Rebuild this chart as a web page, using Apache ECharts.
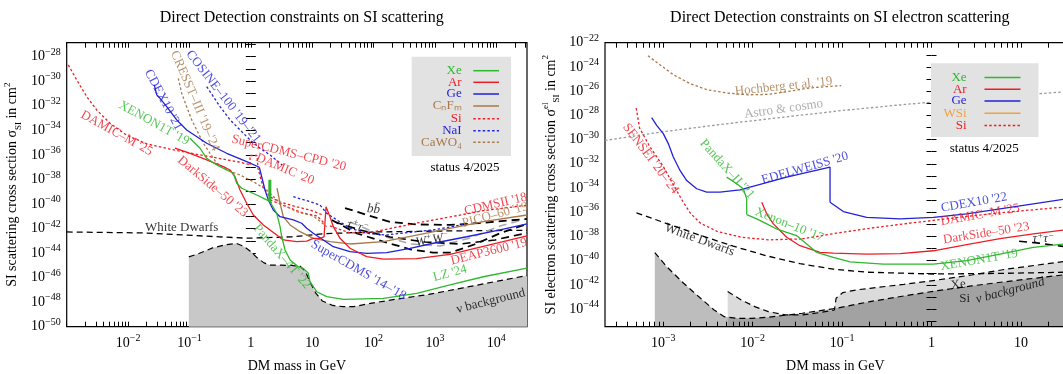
<!DOCTYPE html>
<html><head><meta charset="utf-8">
<script src="https://cdn.jsdelivr.net/npm/echarts@6/dist/echarts.min.js"></script>
<style>html,body{margin:0;padding:0;background:#fff;}#c{width:1063px;height:374px;}</style>
</head><body><div id="c"></div>
<script>
// ===== DATA (all values are log10: x = log10(mass / GeV), y = log10(sigma / cm^2)) =====
// --- Left panel: SI (nucleon) scattering ---
const nuFloorNucleon = [[-1.01,-44.31],[-0.847,-44.04],[-0.623,-43.58],[-0.399,-43.31],[-0.232,-43.22],[-0.12,-43.44],[-0.008,-43.85],[0.104,-44.39],[0.216,-44.8],[0.328,-44.99],[0.496,-44.99],[0.663,-45.01],[0.803,-45.07],[0.887,-45.47],[0.971,-46.42],[1.055,-47.24],[1.167,-47.91],[1.334,-48.27],[1.502,-48.37],[1.67,-48.37],[1.95,-48.1],[2.341,-47.78],[2.9,-47.37],[3.46,-46.83],[4.019,-46.29],[4.5,-45.83]];
const whiteDwarfsNucleon = [[-3,-42.28],[-1.742,-42.36],[-0.511,-42.68],[-0.064,-42.79],[0.663,-42.68],[1.222,-42.41],[2.06,-42.28],[3.18,-42.2],[4.5,-42.14]];
const annBB = [[1.535,-40.33],[1.893,-40.9],[2.268,-41.47],[2.708,-41.67],[3.246,-41.71],[3.735,-41.55],[4.5,-41.22]];
const annWW = [[1.318,-41.3],[1.725,-42.39],[2.159,-43.07],[2.594,-43.69],[2.969,-43.97],[3.246,-43.97],[3.621,-43.34],[4.06,-42.39],[4.5,-41.63]];
const annTauTau = [[1.372,-41.47],[1.78,-42.12],[2.268,-42.69],[2.838,-43.1],[3.409,-43.26],[3.98,-42.93],[4.5,-42.36]];
const annOther = [[1.618,-41.47],[2.156,-42.61],[2.596,-43.26],[3.085,-43.42],[3.573,-42.77],[4.06,-41.79],[4.5,-41.2]];
const lz24 = [[0.851,-45.24],[0.937,-45.65],[0.964,-46.33],[1.074,-47.15],[1.237,-47.55],[1.507,-47.77],[2.159,-47.69],[2.703,-47.28],[3.246,-46.6],[3.788,-45.93],[4.5,-45.22]];
const pandax4t22 = [[0.315,-39.84],[0.422,-40.76],[0.476,-41.85],[0.504,-42.67],[0.558,-43.75],[0.64,-44.56],[0.774,-45.11],[0.851,-45.24]];
const pandax4t22Edge = [[0.31,-38.02],[0.31,-39.84]];
const xenon1t19 = [[-0.991,-34.65],[-0.828,-35.46],[-0.719,-36.28],[-0.556,-36.82],[-0.285,-37.5],[-0.23,-38.31],[-0.148,-38.72],[0.096,-39.27],[0.259,-39.67],[0.345,-39.92]];
const darkside50 = [[-1.235,-35.45],[-0.989,-35.87],[-0.719,-36.41],[-0.448,-36.96],[-0.339,-37.23],[-0.258,-37.78],[-0.176,-38.86],[-0.067,-39.94],[0.041,-40.9],[0.204,-41.71],[0.422,-42.53],[0.53,-42.93],[0.748,-43.07],[0.911,-43.02],[1.018,-42.8],[1.127,-42.8],[1.193,-42.69]];
const deap3600 = [[1.193,-42.69],[1.225,-40.22],[1.29,-41.04],[1.344,-41.85],[1.454,-42.8],[1.616,-43.61],[1.888,-44.29],[2.159,-44.5],[2.703,-44.45],[3.246,-44.1],[3.788,-43.45],[4.5,-42.6]];
const cdex10_21 = [[-1.573,-30.3],[-1.533,-31.11],[-1.48,-31.39],[-1.371,-32.07],[-1.208,-33.15],[-1.045,-33.97],[-0.719,-35.05],[-0.393,-35.87],[-0.067,-36.55],[0.138,-37.01]];
const superCDMS = [[0.138,-37.01],[0.177,-37.78],[0.231,-38.86],[0.285,-39.67],[0.366,-40.49],[0.476,-41.04],[0.692,-41.3],[0.829,-41.57],[0.911,-41.98],[1.018,-42.39],[1.181,-42.93],[1.344,-43.48],[1.616,-43.89],[1.888,-44.02],[2.214,-43.97],[2.594,-43.61],[2.974,-43.2],[3.518,-42.67],[4.061,-42.12],[4.5,-41.63]];
const damicM25 = [[-2.974,-28.67],[-2.837,-29.89],[-2.674,-31.25],[-2.511,-32.34],[-2.294,-33.42],[-2.022,-34.4],[-1.696,-35.1],[-1.303,-35.55],[-0.937,-35.9],[-0.502,-36.3],[-0.176,-36.6],[-0.013,-36.8]];
const damic20 = [[-0.013,-36.8],[-0.013,-36.05],[0.101,-36.05],[0.117,-37.1],[0.199,-38.61],[0.313,-39.43],[0.476,-39.84],[0.753,-40.24],[0.965,-40.49],[1.176,-40.9]];
const superCDMSCPD20 = [[0.313,-39.67],[0.59,-40.24],[0.851,-40.73],[1.079,-40.98],[1.193,-41.55]];
const cdmsII18 = [[1.29,-41.79],[1.616,-42.36],[1.893,-42.36],[2.154,-42.12],[2.708,-41.55],[3.246,-41.06],[3.784,-40.55],[4.5,-40.1]];
const pico60 = [[0.427,-38.7],[0.476,-39.94],[0.53,-41.04],[0.64,-41.71],[0.802,-42.26],[1.018,-42.8],[1.29,-43.07],[1.616,-43.26],[2.159,-43.07],[2.703,-42.53],[3.246,-41.98],[3.788,-41.44],[4.5,-40.9]];
const cresst3 = [[-1.182,-29.76],[-1.126,-30.98],[-1.045,-32.08],[-0.963,-33.15],[-0.882,-33.97],[-0.774,-35.05],[-0.665,-35.87],[-0.556,-36.68],[-0.393,-37.23],[-0.176,-37.64],[0.041,-38.18],[0.259,-38.86],[0.476,-39.92],[0.748,-40.63],[1.018,-40.98],[1.237,-41.85]];
const cosine100 = [[-0.719,-30.44],[-0.611,-31.25],[-0.502,-32.07],[-0.337,-33.15],[-0.176,-33.97],[-0.013,-34.78],[0.15,-35.46],[0.313,-36.0],[0.509,-36.82]];
const naiHighMass = [[0.692,-39.41],[0.965,-39.81],[1.127,-40.08],[1.237,-40.76],[1.4,-41.3],[1.616,-41.96],[1.888,-42.39],[2.214,-42.53],[2.431,-42.39],[2.974,-42.12],[3.518,-41.63]];

// --- Right panel: SI electron scattering ---
const hochberg19 = [[-3.171,-23.08],[-3.038,-23.82],[-2.886,-24.65],[-2.697,-25.39],[-2.507,-25.89],[-2.28,-26.16],[-2.052,-26.3],[-1.825,-26.27],[-1.597,-26.02],[-1.37,-25.74],[-1.142,-25.61],[-1.01,-25.55]];
const astroCosmo = [[-3.652,-30.07],[-3.0,-29.35],[-2.3,-28.7],[-1.6,-28.1],[-1.0,-27.6],[-0.3,-27.1],[0.5,-26.6],[1.5,-26.05]];
const sensei = [[-3.303,-27.4],[-3.265,-29.05],[-3.152,-30.57],[-3.0,-32.22],[-2.886,-33.74],[-2.792,-34.98],[-2.697,-36.08],[-2.583,-36.91],[-2.394,-37.59],[-2.128,-38.06],[-1.825,-38.28],[-1.446,-38.2]];
const damicM25El = [[-1.446,-38.2],[-1.067,-37.73],[-0.688,-37.32],[-0.309,-36.96],[0.07,-36.63],[0.449,-36.3],[0.829,-36.0],[1.5,-35.56]];
const edelweiss20 = [[-3.13,-28.18],[-3.074,-28.82],[-3.0,-29.51],[-2.944,-30.33],[-2.888,-31.44],[-2.813,-32.55],[-2.738,-33.38],[-2.626,-34.06],[-2.514,-34.34],[-2.366,-34.34],[-2.142,-34.15],[-1.62,-33.1],[-1.135,-32.27],[-1.135,-35.17]];
const cdex10_22 = [[-1.135,-35.17],[-0.986,-35.94],[-0.725,-36.42],[-0.352,-36.55],[0.02,-36.42],[0.394,-36.13],[0.766,-35.72],[1.139,-35.31],[1.5,-34.9]];
const pandaxII21 = [[-2.291,-33.1],[-2.179,-33.65],[-2.105,-34.06],[-2.067,-34.89],[-2.067,-36.19]];
const xenon10_17 = [[-2.067,-36.19],[-1.955,-36.55],[-1.843,-36.96],[-1.731,-37.38],[-1.62,-37.66],[-1.508,-37.93],[-1.396,-38.62],[-1.284,-39.32]];
const xenon1t19El = [[-1.284,-39.32],[-1.098,-39.73],[-0.912,-40.09],[-0.539,-40.28],[0.02,-40.28],[0.394,-40.0],[0.766,-39.45],[1.139,-38.9],[1.5,-38.6]];
const darkside50El = [[-1.899,-35.17],[-1.843,-36.13],[-1.769,-36.96],[-1.62,-38.07],[-1.471,-38.76],[-1.247,-39.32],[-1.098,-39.38],[-0.725,-39.46],[-0.352,-39.42],[0.02,-39.18],[0.394,-38.68],[0.766,-38.18],[1.139,-37.79],[1.5,-37.45]];
const whiteDwarfsEl = [[-3.3,-36.05],[-2.962,-36.93],[-2.589,-37.9],[-2.217,-38.8],[-1.843,-39.6],[-1.471,-40.25],[-1.098,-40.7],[-0.725,-40.95],[0.02,-41.1],[0.766,-41.05],[1.5,-40.95]];
const nuFloorSi = [[-3.095,-39.33],[-2.962,-40.49],[-2.773,-41.86],[-2.583,-43.1],[-2.431,-44.07],[-2.318,-44.62],[-2.166,-44.76],[-2.014,-44.76],[-1.825,-44.67],[-1.446,-44.34],[-1.067,-43.93],[-0.688,-43.38],[-0.309,-42.91],[0.07,-42.47],[0.449,-42.08],[0.829,-41.73],[1.5,-41.15]];
const nuFloorXe = [[-2.28,-42.55],[-2.128,-43.24],[-1.977,-43.79],[-1.825,-44.21],[-1.635,-44.48],[-1.446,-44.48],[-1.256,-44.29],[-1.086,-44.07],[-1.067,-43.1],[-0.991,-42.63],[-0.839,-42.41],[-0.688,-42.28],[-0.309,-41.95],[0.07,-41.59],[0.449,-41.18],[0.829,-40.71],[1.5,-40.05]];
const annTauTauEl = [[0.98,-38.4],[1.2,-38.55],[1.5,-38.85]];

// axis ranges (log10 units) and labelled decades
const xRangeL = [-3, 4.5], yRangeL = [-50, -26.86];
const xRangeR = [-3.652, 1.5], yRangeR = [-45.45, -22];
const xLabelsL = [-2,-1,0,1,2,3,4], yLabelsL = [-50,-48,-46,-44,-42,-40,-38,-36,-34,-32,-30,-28];
const xLabelsR = [-3,-2,-1,0,1], yLabelsR = [-44,-42,-40,-38,-36,-34,-32,-30,-28,-26,-24,-22];

// ===== STYLE =====
const FONT = '"Liberation Serif","Times New Roman",serif';
const C = {green:'#2db82d', red:'#ee1c25', blue:'#2222d6', brown:'#a8784a', orange:'#f4a040', grey:'#9a9a9a', black:'#000'};

function logTicks(r){const o=[];for(let e=Math.floor(r[0]);e<=Math.ceil(r[1]);e++)for(let k=1;k<=9;k++){const v=e+Math.log10(k);if(v>=r[0]-1e-9&&v<=r[1]+1e-9)o.push(v);}return o;}
function intTicks(r){const o=[];for(let e=Math.ceil(r[0]);e<=Math.floor(r[1]);e++)o.push(e);return o;}
function decadeFmt(v){const e=Math.round(v);if(e===0)return '1';if(e===1)return '10';return '10{sup|'+(e<0?'\u2212'+(-e):e)+'}';}
const supRich = {sup:{fontSize:10,lineHeight:10,verticalAlign:'top',fontFamily:FONT,color:'#000'}};

function xAx(grid, range, pos, labels){
  return {type:'value', gridIndex:grid, position:pos, min:range[0], max:range[1],
    axisLine:{show:false}, splitLine:{show:false},
    axisTick:{show:true, inside:true, length:5, customValues:logTicks(range), lineStyle:{color:'#000',width:1}},
    axisLabel: labels ? {show:true, customValues:labels, formatter:decadeFmt, margin:7, color:'#000', fontFamily:FONT, fontSize:14, lineHeight:19, rich:supRich} : {show:false},
    name: labels ? 'DM mass in GeV' : '', nameLocation:'middle', nameGap:33,
    nameTextStyle:{fontFamily:FONT, fontSize:14, color:'#000'}};
}
function yAx(grid, range, pos, labels, name){
  return {type:'value', gridIndex:grid, position:pos, min:range[0], max:range[1],
    axisLine:{show:false}, splitLine:{show:false},
    axisTick:{show:true, inside:true, length:5, customValues:intTicks(range), lineStyle:{color:'#000',width:1}},
    axisLabel: labels ? {show:true, customValues:labels, formatter:decadeFmt, margin:6, color:'#000', fontFamily:FONT, fontSize:14, lineHeight:19, rich:supRich} : {show:false},
    name: name || '', nameLocation:'middle', nameGap:44,
    nameTextStyle:{fontFamily:FONT, fontSize:14, color:'#000', lineHeight:20,
      rich:{sub:{fontSize:9,lineHeight:9,verticalAlign:'bottom',fontFamily:FONT,color:'#000'},
            sup:{fontSize:9,lineHeight:9,verticalAlign:'top',fontFamily:FONT,color:'#000'}}}};
}

const DASH = {solid:'solid', dotted:[2.5,2.2], dashed:[6,4], dashedLong:[8,5]};
function line(data, color, dash, width, panel, z){
  return {type:'line', data:data, xAxisIndex:panel*2, yAxisIndex:panel*2, showSymbol:false, symbol:'none',
    silent:true, z:z||3, lineStyle:{color:color, width:width, type:DASH[dash]}};
}
function area(data, fill, panel){
  return {type:'line', data:data, xAxisIndex:panel*2, yAxisIndex:panel*2, showSymbol:false, symbol:'none',
    silent:true, z:1, lineStyle:{color:'#000', width:1.2, type:DASH.dashed},
    areaStyle:{color:fill, opacity:1, origin:'start'}};
}
function labels(list, panel){
  return {type:'scatter', xAxisIndex:panel*2, yAxisIndex:panel*2, symbolSize:1, silent:true, z:6,
    itemStyle:{color:'rgba(0,0,0,0)'},
    label:{show:true, position:'inside', fontFamily:FONT, fontSize:13, rich:{sup:{fontSize:9,lineHeight:9,verticalAlign:'top',fontFamily:FONT,fontStyle:'italic',color:'#000'}}},
    data:list.map(l=>({value:l[1], label:{formatter:l[0], rotate:l[2], color:l[3], fontStyle:l[4]?'italic':'normal', lineHeight:l[4]?16:undefined}}))};
}

const annotL = [
  ["CDEX10 '21", [-1.426,-31.52], -62, C.blue],
  ["CRESST\u2013III '19\u2013'24", [-0.909,-31.6], -67, C.brown],
  ["COSINE\u2013100 '19\u2013'21", [-0.448,-31.25], -52, C.blue],
  ["XENON1T '19", [-1.577,-33.42], -29, C.green],
  ["DAMIC\u2013M '25", [-2.185,-34.24], -29, C.red],
  ["SuperCDMS\u2013CPD '20", [0.619,-35.85], -14, C.red],
  ["DAMIC '20", [0.557,-37.17], -23, C.red],
  ["DarkSide\u201350 '23", [-0.621,-38.59], -40, C.red],
  ["White Dwarfs", [-1.126,-41.95], 0, C.black],
  ["PandaX\u20134T '22", [0.508,-44.3], -49, C.green],
  ["SuperCDMS '14\u2013'18", [1.755,-45.4], -30, C.blue],
  ["LZ '24", [3.246,-45.65], 15, C.green],
  ["\u03bd background", [3.91,-47.91], 14, C.black],
  ["DEAP3600 '19", [3.88,-43.89], 14, C.red],
  ["CDMSII '18", [3.99,-40.02], 13, C.red],
  ["PICO\u201360 '19", [3.98,-40.9], 15, C.brown],
  ["bb\u0304", [2.0,-40.43], -5, C.black, true],
  ["\u03c4{sup|+}\u03c4{sup|\u2212}", [1.74,-41.85], -15, C.black, true],
  ["W{sup|+}W{sup|\u2212}", [2.957,-42.93], 10, C.black, true]
];
const annotR = [
  ["Hochberg et al. '19", [-1.654,-25.61], 6, C.brown],
  ["Astro & cosmo", [-1.654,-27.48], 8, C.grey],
  ["SENSEI '20\u2013'24", [-3.141,-31.58], -53, C.red],
  ["PandaX\u2013II '21", [-2.287,-32.44], -48, C.green],
  ["EDELWEISS '20", [-1.415,-32.36], 16, C.blue],
  ["Xenon\u201310 '17", [-1.59,-37.04], -22, C.green],
  ["White Dwarfs", [-2.594,-38.28], -20, C.black],
  ["CDEX10 '22", [0.476,-35.2], 10, C.blue],
  ["DAMIC\u2013M '25", [0.544,-36.22], 10, C.red],
  ["DarkSide\u201350 '23", [0.613,-37.73], 9, C.red],
  ["XENON1T '19", [0.533,-39.94], 10, C.green],
  ["Xe", [0.3,-42.0], 8, C.black],
  ["Si", [0.37,-43.16], 0, C.black],
  ["\u03bd background", [0.88,-42.47], 15, C.black, true],
  ["\u03c4{sup|+}\u03c4{sup|\u2212}", [1.25,-38.2], 0, C.black, true]
];

const series = [
  area(nuFloorNucleon, '#c8c8c8', 0),
  line(whiteDwarfsNucleon, '#000', 'dashed', 1.3, 0),
  line(annOther, '#aaaaaa', 'dashedLong', 1.6, 0),
  line(annBB, '#000', 'dashedLong', 1.8, 0),
  line(annTauTau, '#000', 'dashedLong', 1.6, 0),
  line(annWW, '#000', 'dashedLong', 1.8, 0),
  line(damicM25, C.red, 'dotted', 1.3, 0),
  line(damic20, C.red, 'dotted', 1.3, 0),
  line(superCDMSCPD20, C.red, 'dotted', 1.3, 0),
  line(cdmsII18, C.red, 'dotted', 1.3, 0),
  line(cresst3, C.brown, 'dotted', 1.3, 0),
  line(cosine100, C.blue, 'dotted', 1.3, 0),
  line(naiHighMass, C.blue, 'dotted', 1.3, 0),
  line(pico60, C.brown, 'solid', 1.3, 0),
  line(cdex10_21, C.blue, 'solid', 1.3, 0),
  line(superCDMS, C.blue, 'solid', 1.3, 0),
  line(darkside50, C.red, 'solid', 1.3, 0),
  line(deap3600, C.red, 'solid', 1.3, 0),
  line(xenon1t19, C.green, 'solid', 1.3, 0),
  line(pandax4t22, C.green, 'solid', 1.3, 0),
  line(pandax4t22Edge, C.green, 'solid', 3, 0),
  line(lz24, C.green, 'solid', 1.3, 0),
  labels(annotL, 0),

  area(nuFloorSi, 'rgba(0,0,0,0.26)', 1),
  area(nuFloorXe, 'rgba(0,0,0,0.14)', 1),
  line(whiteDwarfsEl, '#000', 'dashed', 1.3, 1),
  line(annTauTauEl, '#000', 'dashedLong', 1.6, 1),
  line(hochberg19, C.brown, 'dotted', 1.3, 1),
  line(astroCosmo, C.grey, 'dotted', 1.3, 1),
  line(sensei, C.red, 'dotted', 1.3, 1),
  line(damicM25El, C.red, 'dotted', 1.3, 1),
  line(edelweiss20, C.blue, 'solid', 1.3, 1),
  line(cdex10_22, C.blue, 'solid', 1.3, 1),
  line(darkside50El, C.red, 'solid', 1.3, 1),
  line(pandaxII21, C.green, 'solid', 1.3, 1),
  line(xenon10_17, C.green, 'solid', 1.3, 1),
  line(xenon1t19El, C.green, 'solid', 1.3, 1),
  labels(annotR, 1)
];

// ===== legends (drawn as graphics) =====
function legendBox(x, y, w, h, items, textRight, lineX1, lineX2, rows, status){
  const els = [{type:'rect', z:100, shape:{x:x,y:y,width:w,height:h}, style:{fill:'#e2e2e2'}}];
  items.forEach((it,i)=>{
    els.push({type:'text', z:101, x:textRight, y:rows[i], style:{text:it[0], fill:it[1], font:'13px '+FONT, align:'right', verticalAlign:'middle'}});
    els.push({type:'line', z:101, shape:{x1:lineX1,y1:rows[i],x2:lineX2,y2:rows[i]}, style:{stroke:it[1], lineWidth:1.5, lineDash: it[2]==='dotted'?[2.5,2.2]:null}});
  });
  els.push({type:'text', z:101, x:status[0], y:status[1], style:{text:'status 4/2025', fill:'#000', font:'13px '+FONT, align:'center', verticalAlign:'middle'}});
  return els;
}
const legendL = [['Xe',C.green,'solid'],['Ar',C.red,'solid'],['Ge',C.blue,'solid'],['C\u2099F\u2098',C.brown,'solid'],['Si',C.red,'dotted'],['NaI',C.blue,'dotted'],['CaWO\u2084',C.brown,'dotted']];
const legendR = [['Xe',C.green,'solid'],['Ar',C.red,'solid'],['Ge',C.blue,'solid'],['WSi',C.orange,'solid'],['Si',C.red,'dotted']];

const graphics = [].concat(
  legendBox(411.7, 56.7, 99.3, 99.3, legendL, 461.7, 473.3, 499, [70.7,82.3,94,106,118.7,130.7,142.3], [465,167.3]),
  legendBox(931, 63.3, 107.4, 73.8, legendR, 966.6, 984.5, 1020.5, [77.5,89.3,101,113.3,125.5], [984.2,148.1])
);

const chart = echarts.init(document.getElementById('c'), null, {renderer:'canvas'});
chart.setOption({
  animation:false,
  backgroundColor:'#fff',
  title:[
    {text:'Direct Detection constraints on SI scattering', left:296.7, top:5, textAlign:'center', textStyle:{fontFamily:FONT, fontSize:16, fontWeight:'normal', color:'#000'}},
    {text:'Direct Detection constraints on SI electron scattering', left:834.8, top:5, textAlign:'center', textStyle:{fontFamily:FONT, fontSize:16, fontWeight:'normal', color:'#000'}}
  ],
  grid:[
    {left:66.7, top:42.7, width:460.3, height:284, show:true, borderColor:'#000', borderWidth:1.2, backgroundColor:'transparent', containLabel:false, outerBoundsMode:'none'},
    {left:605, top:42.7, width:460.6, height:284, show:true, borderColor:'#000', borderWidth:1.2, backgroundColor:'transparent', containLabel:false, outerBoundsMode:'none'}
  ],
  xAxis:[ xAx(0,xRangeL,'bottom',xLabelsL), xAx(0,xRangeL,'top',null), xAx(1,xRangeR,'bottom',xLabelsR), xAx(1,xRangeR,'top',null) ],
  yAxis:[ yAx(0,yRangeL,'left',yLabelsL,'SI scattering cross section \u03c3{sub|SI} in cm{sup|2}'), yAx(0,yRangeL,'right',null),
          yAx(1,yRangeR,'left',yLabelsR,'SI electron scattering cross section \u03c3{sup|el}{sub|SI} in cm{sup|2}'), yAx(1,yRangeR,'right',null) ],
  series: series,
  graphic: graphics
});
</script></body></html>
